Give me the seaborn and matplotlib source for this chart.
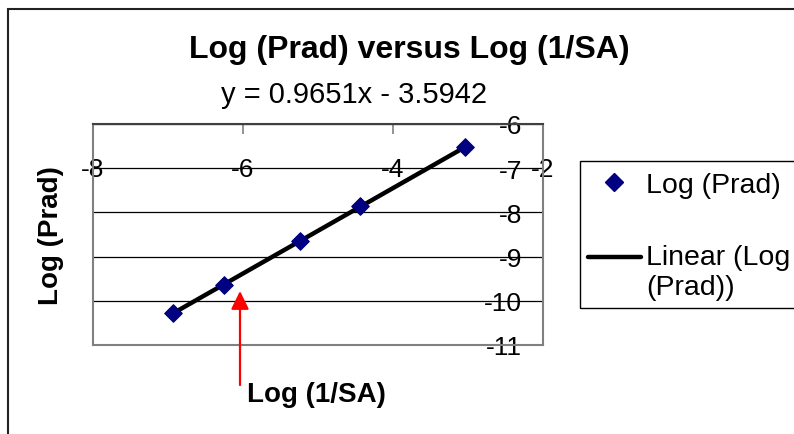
import numpy as np
import pandas as pd
import matplotlib
matplotlib.use("Agg")
import matplotlib.pyplot as plt
import seaborn as sns
from matplotlib.patches import Rectangle, FancyArrowPatch
from matplotlib.lines import Line2D
from matplotlib.legend_handler import HandlerLine2D

# ---- data ----
log_inv_sa = [-6.93, -6.26, -5.24, -4.44, -3.04]
log_prad = [-10.28, -9.64, -8.65, -7.86, -6.53]
x_ticks = [-8, -6, -4, -2]
y_ticks = [-11, -10, -9, -8, -7, -6]
title_text = "Log (Prad) versus Log (1/SA)"
equation_text = "y = 0.9651x - 3.5942"
x_label = "Log (1/SA)"
y_label = "Log (Prad)"
series_label = "Log (Prad)"
trend_label = "Linear (Log\n(Prad))"

df = pd.DataFrame({"x": log_inv_sa, "y": log_prad})

sns.set_style("white")
plt.rcParams["font.family"] = ["Liberation Sans", "DejaVu Sans"]
plt.rcParams["text.color"] = "black"
plt.rcParams["axes.labelcolor"] = "black"
plt.rcParams["xtick.labelcolor"] = "black"
plt.rcParams["ytick.labelcolor"] = "black"

W, H = 794, 435
fig = plt.figure(figsize=(W / 100, H / 100), dpi=100)

def fx(px):
    return px / W

def fy(py):
    return 1 - py / H

# axes: plot area 93..543 x, 125..346 y
ax = fig.add_axes([fx(93), fy(346), (543 - 93) / W, (346 - 125) / H])

sns.regplot(data=df, x="x", y="y", ax=ax, scatter=False, ci=None,
            line_kws=dict(color="black", lw=3.2, zorder=3))
sns.scatterplot(data=df, x="x", y="y", ax=ax, marker="D", s=80,
                color="#000080", edgecolor="#000080", linewidth=0.8, zorder=4)

ax.set_xlim(-8, -2)
ax.set_ylim(-11, -6)
ax.set_xticks(x_ticks)
ax.set_xticklabels([str(v) for v in x_ticks])
ax.set_yticks(y_ticks)
ax.set_yticklabels([str(v) for v in y_ticks])

for s in ax.spines.values():
    s.set_color("#808080")
    s.set_linewidth(1.5)
ax.spines["top"].set_color("#404040")

ax.grid(axis="y", color="black", lw=0.9)
ax.grid(axis="x", visible=False)
ax.set_axisbelow(True)

# x tick labels drawn along the -7 line (top axis with negative pad)
ax.xaxis.set_ticks_position("top")
ax.tick_params(axis="x", which="both", top=True, bottom=False,
               labeltop=True, labelbottom=False, direction="in",
               length=7, width=1.2, color="#808080", labelcolor="black",
               pad=-41, labelsize=19)
# y tick labels on right, inside the plot
ax.yaxis.set_ticks_position("right")
ax.tick_params(axis="y", which="both", right=True, left=False,
               labelright=True, labelleft=False, length=0, pad=-15,
               labelsize=19, labelcolor="black")
for lbl in ax.get_yticklabels():
    lbl.set_horizontalalignment("right")

ax.set_xlabel("")
ax.set_ylabel(y_label, fontsize=20, fontweight="bold", color="black")
ax.yaxis.set_label_position("left")
ax.yaxis.set_label_coords(-0.064, 0.5)

# title and equation
fig.text(fx(409), fy(50), title_text, ha="center", va="center",
         fontsize=23, fontweight="bold", color="black")
fig.text(fx(354), fy(95), equation_text, ha="center", va="center",
         fontsize=21, color="black")

# x label with red arrow
fig.text(fx(247), fy(395), x_label, ha="left", va="center",
         fontsize=20, fontweight="bold", color="black")
fig.add_artist(FancyArrowPatch(
    (fx(240), fy(386)), (fx(240), fy(292)), transform=fig.transFigure,
    arrowstyle="-|>,head_length=0.55,head_width=0.27", mutation_scale=20,
    color="red", lw=1.6, shrinkA=0, shrinkB=0))


class RaisedLineHandler(HandlerLine2D):
    """Line handle aligned with the first line of a two-line label."""
    def create_artists(self, legend, orig_handle, xdescent, ydescent,
                       width, height, fontsize, trans):
        arts = super().create_artists(legend, orig_handle, xdescent, ydescent,
                                      width, height, fontsize, trans)
        for a in arts:
            a.set_ydata(np.asarray(a.get_ydata()) + 10.5)
        return arts


# legend
fig.add_artist(Rectangle((fx(580), fy(309)), 1.0, (309 - 162) / H,
                         transform=fig.transFigure, fill=False,
                         edgecolor="black", lw=1.0))
marker_handle = Line2D([], [], linestyle="none", marker="D", markersize=9,
                       markerfacecolor="#000080", markeredgecolor="#000080")
line_handle = Line2D([], [], color="black", lw=3.2)
fig.legend([marker_handle, line_handle], [series_label, trend_label],
           loc="upper left", bbox_to_anchor=(fx(588), fy(173)),
           frameon=False, borderpad=0, borderaxespad=0, handlelength=1.85,
           handletextpad=0.2, labelspacing=1.6, fontsize=20.5,
           labelcolor="black", handler_map={line_handle: RaisedLineHandler()})

# chart border
fig.add_artist(Rectangle((fx(7.5), -0.2), 2.0, fy(9.5) + 0.2,
                         transform=fig.transFigure, fill=False,
                         edgecolor="#222222", lw=1.5))

fig.savefig("out.png", dpi=100)
